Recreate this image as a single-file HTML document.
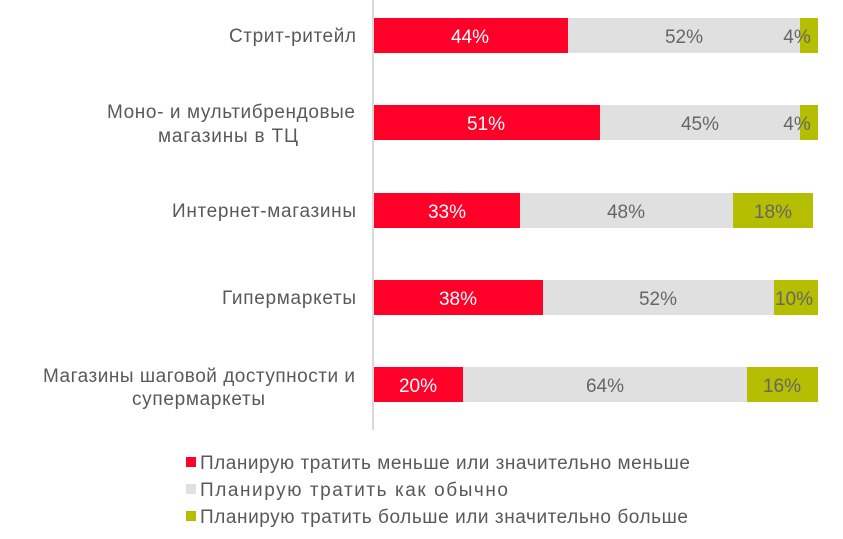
<!DOCTYPE html>
<html><head><meta charset="utf-8"><style>
body{margin:0;background:#fff;}
svg{display:block;font-family:"Liberation Sans",sans-serif;}
</style></head><body>
<svg width="843" height="539" viewBox="0 0 843 539">
<line x1="373" y1="0" x2="373" y2="430" stroke="#d9d9d9" stroke-width="2"/>
<g font-size="19" fill="#595959" lengthAdjust="spacingAndGlyphs">
<text x="229" y="42" textLength="127">Стрит-ритейл</text>
<text x="107" y="118" textLength="248">Моно- и мультибрендовые</text>
<text x="158" y="142" textLength="140">магазины в ТЦ</text>
<text x="172" y="217" textLength="184">Интернет-магазины</text>
<text x="222" y="304" textLength="134">Гипермаркеты</text>
<text x="43" y="382" textLength="312">Магазины шаговой доступности и</text>
<text x="132" y="405" textLength="133">супермаркеты</text>
</g>
<rect x="374" y="18" width="194" height="35" fill="#ff0029"/>
<rect x="568" y="18" width="232" height="35" fill="#e0e0e0"/>
<rect x="800" y="18" width="18" height="35" fill="#b5be00"/>
<rect x="374" y="105" width="226" height="35" fill="#ff0029"/>
<rect x="600" y="105" width="200" height="35" fill="#e0e0e0"/>
<rect x="800" y="105" width="18" height="35" fill="#b5be00"/>
<rect x="374" y="193" width="146" height="35" fill="#ff0029"/>
<rect x="520" y="193" width="213" height="35" fill="#e0e0e0"/>
<rect x="733" y="193" width="80" height="35" fill="#b5be00"/>
<rect x="374" y="280" width="169" height="35" fill="#ff0029"/>
<rect x="543" y="280" width="231" height="35" fill="#e0e0e0"/>
<rect x="774" y="280" width="44" height="35" fill="#b5be00"/>
<rect x="374" y="367" width="89" height="35" fill="#ff0029"/>
<rect x="463" y="367" width="284" height="35" fill="#e0e0e0"/>
<rect x="747" y="367" width="71" height="35" fill="#b5be00"/>
<g font-size="19" text-anchor="middle">
<text x="470" y="43" fill="#fff">44%</text>
<text x="684" y="43" fill="#666">52%</text>
<text x="797" y="43" fill="#666">4%</text>
<text x="486" y="130" fill="#fff">51%</text>
<text x="700" y="130" fill="#666">45%</text>
<text x="797" y="130" fill="#666">4%</text>
<text x="447" y="218" fill="#fff">33%</text>
<text x="626" y="218" fill="#666">48%</text>
<text x="773" y="218" fill="#666">18%</text>
<text x="458" y="305" fill="#fff">38%</text>
<text x="658" y="305" fill="#666">52%</text>
<text x="794" y="305" fill="#666">10%</text>
<text x="418" y="392" fill="#fff">20%</text>
<text x="605" y="392" fill="#666">64%</text>
<text x="782" y="392" fill="#666">16%</text>
</g>
<rect x="186" y="457" width="10" height="10" fill="#ff0029"/>
<rect x="186" y="484" width="10" height="10" fill="#e0e0e0"/>
<rect x="186" y="511" width="10" height="10" fill="#b5be00"/>
<g font-size="19" fill="#595959" lengthAdjust="spacingAndGlyphs">
<text x="200" y="469" textLength="490">Планирую тратить меньше или значительно меньше</text>
<text x="200" y="496" textLength="308">Планирую тратить как обычно</text>
<text x="200" y="523" textLength="488">Планирую тратить больше или значительно больше</text>
</g>
</svg>
</body></html>
